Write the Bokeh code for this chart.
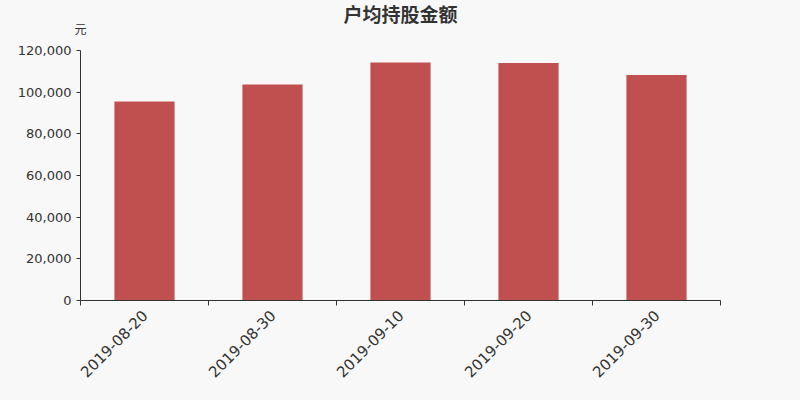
from math import pi
from bokeh.plotting import figure
from bokeh.models import Range1d, FixedTicker, NumeralTickFormatter, Title, ColumnDataSource
from bokeh.embed import file_html
from bokeh.resources import INLINE

dates = ["2019-08-20", "2019-08-30", "2019-09-10", "2019-09-20", "2019-09-30"]
values = [95500, 103700, 114200, 114000, 108200]
y_ticks = [0, 20000, 40000, 60000, 80000, 100000, 120000]

BG = "#f8f8f8"
BAR = "#c0504f"
TXT = "#333333"

xs = [i + 0.5 for i in range(len(dates))]
src = ColumnDataSource(dict(x=xs, top=values, date=dates))

p = figure(
    width=800, height=400,
    x_range=Range1d(0, len(dates)),
    y_range=Range1d(0, 120000),
    output_backend="svg", toolbar_location=None,
    min_border_left=80, min_border_right=80,
    min_border_top=50, min_border_bottom=100,
)
p.background_fill_color = BG
p.border_fill_color = BG
p.outline_line_color = None
p.xgrid.grid_line_color = None
p.ygrid.grid_line_color = None

# unit sits just above the y axis, main title overlaps upward via a negative standoff
unit = Title(text="元", align="left", offset=-6, standoff=27,
             text_font="Noto Sans CJK SC", text_font_size="12px",
             text_font_style="normal", text_color=TXT)
p.add_layout(unit, "above")
main = Title(text="户均持股金额", align="center", standoff=-44,
             text_font="Noto Sans CJK SC", text_font_size="19px",
             text_font_style="bold", text_color=TXT)
p.add_layout(main, "above")

p.vbar(x="x", top="top", width=0.47, source=src, fill_color=BAR, line_color=None)

# x axis: labels at bar centres, ticks at category boundaries
p.xaxis.ticker = FixedTicker(ticks=xs, minor_ticks=list(range(len(dates) + 1)))
p.xaxis.major_label_overrides = {x: d for x, d in zip(xs, dates)}
p.xaxis.major_label_orientation = pi / 4
p.xaxis.major_tick_line_color = None
p.xaxis.minor_tick_line_color = TXT
p.xaxis.minor_tick_in = 0
p.xaxis.minor_tick_out = 5
p.xaxis.axis_line_color = TXT
p.xaxis.major_label_text_font = "DejaVu Sans"
p.xaxis.major_label_text_font_size = "15px"
p.xaxis.major_label_text_color = TXT
p.xaxis.major_label_standoff = 6

p.yaxis.ticker = FixedTicker(ticks=y_ticks)
p.yaxis.formatter = NumeralTickFormatter(format="0,0")
p.yaxis.minor_tick_line_color = None
p.yaxis.major_tick_in = 0
p.yaxis.major_tick_out = 4
p.yaxis.major_tick_line_color = TXT
p.yaxis.axis_line_color = TXT
p.yaxis.major_label_text_font = "DejaVu Sans"
p.yaxis.major_label_text_font_size = "13px"
p.yaxis.major_label_text_color = TXT
p.yaxis.major_label_standoff = 5

html = file_html(p, INLINE).replace("<body>", '<body style="background:%s">' % BG)
open("out.html", "w").write(html)
